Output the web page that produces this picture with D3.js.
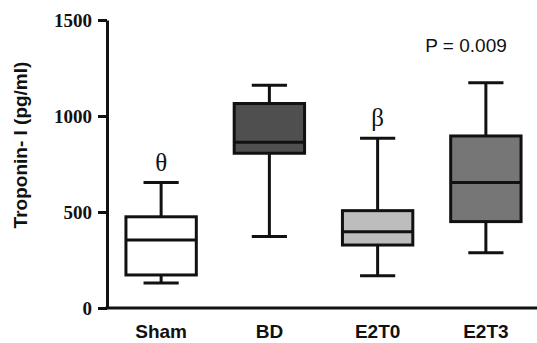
<!DOCTYPE html>
<html>
<head>
<meta charset="utf-8">
<script src="https://cdn.jsdelivr.net/npm/d3@7.9.0/dist/d3.min.js"></script>
<style>
  body { margin: 0; background: #fff; }
  svg { display: block; }
</style>
</head>
<body>
<svg id="chart" width="537" height="343"></svg>
<script>
// ====== Data ======
const groups = ['Sham', 'BD', 'E2T0', 'E2T3'];
const whiskerLow = [130, 373, 168, 288];
const q1 = [172, 806, 328, 450];
const median = [354, 863, 397, 653];
const q3 = [475, 1065, 507, 896];
const whiskerHigh = [653, 1160, 884, 1173];
const yTicks = [0, 500, 1000, 1500];
const marks = ['θ', '', 'β', ''];

// ====== Setup ======
const svg = d3.select('#chart');
const x = d3.scaleBand().domain(groups).range([107, 540]);
const y = d3.scaleLinear().domain([0, 1500]).range([308, 20]);
const fills = d3.scaleOrdinal().domain(groups)
  .range(['#ffffff', '#4f4f4f', '#bdbdbd', '#767676']);

const boxW = x.bandwidth() * 0.65;
const capW = boxW / 2;
const cx = (g) => x(g) + x.bandwidth() / 2;

// ====== Axes ======
const yAxis = svg.append('g')
  .attr('transform', 'translate(107,0)')
  .call(d3.axisLeft(y).tickValues(yTicks).tickFormat(d3.format('d'))
    .tickSize(9).tickPadding(6).tickSizeOuter(0));
yAxis.select('.domain').attr('stroke-width', 3).attr('stroke', '#111');
yAxis.selectAll('.tick line').attr('stroke-width', 3).attr('stroke', '#111');
yAxis.selectAll('.tick text')
  .attr('font-family', '"Liberation Serif", "Times New Roman", serif')
  .attr('font-weight', 'bold')
  .attr('font-size', 19)
  .attr('fill', '#111');

const xAxis = svg.append('g')
  .attr('transform', 'translate(0,308)')
  .call(d3.axisBottom(x).tickSize(0).tickPadding(17).tickSizeOuter(0));
xAxis.select('.domain')
  .attr('d', 'M105.5,0H537')
  .attr('stroke-width', 3).attr('stroke', '#111');
xAxis.selectAll('.tick text')
  .attr('font-family', '"Liberation Sans", Arial, sans-serif')
  .attr('font-weight', 'bold')
  .attr('font-size', 19)
  .attr('fill', '#111');

// y title
svg.append('text')
  .attr('transform', 'translate(27,145) rotate(-90)')
  .attr('text-anchor', 'middle')
  .attr('font-family', '"Liberation Sans", Arial, sans-serif')
  .attr('font-weight', 'bold')
  .attr('font-size', 19)
  .attr('fill', '#111')
  .text('Troponin- I (pg/ml)');

// ====== Boxes ======
const box = svg.append('g').selectAll('g')
  .data(groups)
  .join('g')
  .attr('stroke', '#111')
  .attr('stroke-width', 3);

// whiskers
box.append('line')
  .attr('x1', cx).attr('x2', cx)
  .attr('y1', (d, i) => y(whiskerHigh[i]))
  .attr('y2', (d, i) => y(q3[i]));
box.append('line')
  .attr('x1', cx).attr('x2', cx)
  .attr('y1', (d, i) => y(q1[i]))
  .attr('y2', (d, i) => y(whiskerLow[i]));
box.append('line')
  .attr('x1', (d) => cx(d) - capW / 2).attr('x2', (d) => cx(d) + capW / 2)
  .attr('y1', (d, i) => y(whiskerHigh[i])).attr('y2', (d, i) => y(whiskerHigh[i]));
box.append('line')
  .attr('x1', (d) => cx(d) - capW / 2).attr('x2', (d) => cx(d) + capW / 2)
  .attr('y1', (d, i) => y(whiskerLow[i])).attr('y2', (d, i) => y(whiskerLow[i]));

// box + median
box.append('rect')
  .attr('x', (d) => cx(d) - boxW / 2)
  .attr('width', boxW)
  .attr('y', (d, i) => y(q3[i]))
  .attr('height', (d, i) => y(q1[i]) - y(q3[i]))
  .attr('fill', (d) => fills(d));
box.append('line')
  .attr('x1', (d) => cx(d) - boxW / 2).attr('x2', (d) => cx(d) + boxW / 2)
  .attr('y1', (d, i) => y(median[i])).attr('y2', (d, i) => y(median[i]));

// significance marks above whiskers
box.append('text')
  .attr('x', cx)
  .attr('y', (d, i) => y(whiskerHigh[i]) - 12)
  .attr('text-anchor', 'middle')
  .attr('stroke', 'none')
  .attr('fill', '#111')
  .attr('font-family', '"Liberation Serif", "Times New Roman", serif')
  .attr('font-size', 25)
  .text((d, i) => marks[i]);

svg.append('text')
  .attr('x', 466)
  .attr('y', 52)
  .attr('text-anchor', 'middle')
  .attr('font-family', '"Liberation Sans", Arial, sans-serif')
  .attr('font-size', 19)
  .attr('fill', '#111')
  .text('P = 0.009');
</script>
</body>
</html>
